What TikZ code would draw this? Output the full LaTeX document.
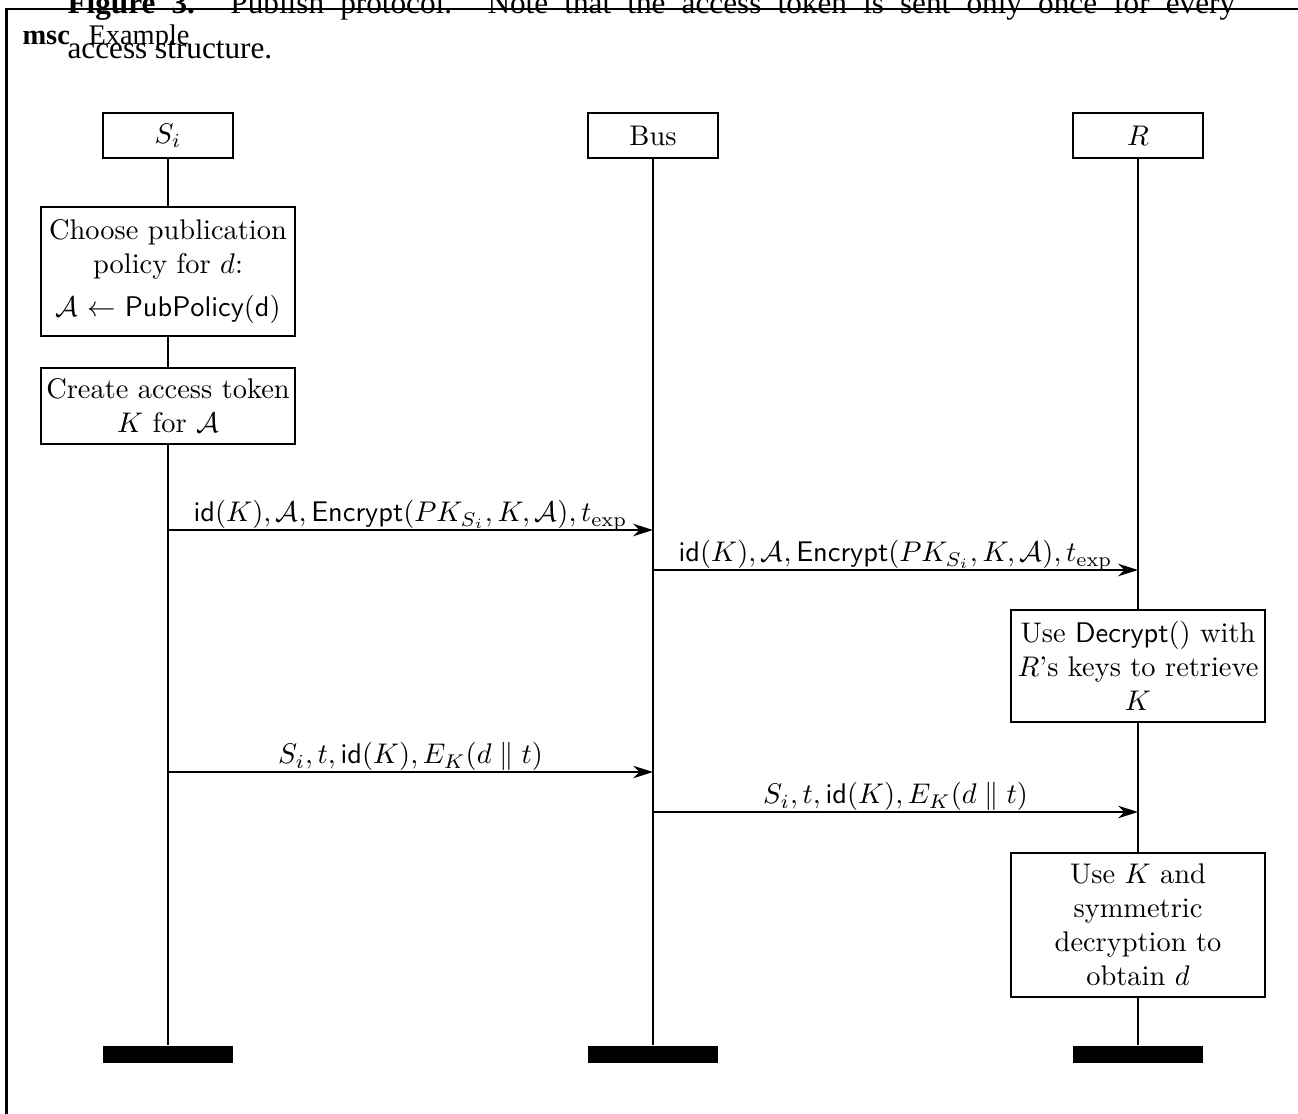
\documentclass[tikz,border=0pt]{standalone}
\usepackage{fontspec}
\newfontfamily\timesfont{Liberation Serif}
\usetikzlibrary{arrows.meta}
\tikzset{
  frameline/.style={line width=0.75pt},
  lifeline/.style={line width=0.7pt},
  headbox/.style={draw, line width=0.7pt, fill=white, minimum width=45.8pt, minimum height=15.8pt, inner sep=0pt},
  actbox/.style={draw, line width=0.7pt, fill=white, text width=86pt, align=center, inner sep=1.7pt},
  endbar/.style={fill=black, minimum width=45.8pt, minimum height=6pt, inner sep=0pt},
  msgarrow/.style={line width=0.7pt, -{Stealth[length=7pt,width=4.4pt,inset=2.2pt]}},
  msglabel/.style={anchor=base, inner sep=0pt, yshift=2.9pt},
  captext/.style={anchor=base west, inner sep=0pt, font=\timesfont\fontsize{11}{13}\selectfont},
  titletext/.style={anchor=base west, inner sep=0pt, font=\timesfont\fontsize{10}{12}\selectfont}
}
\begin{document}
\begin{tikzpicture}[x=0.012372cm, y=-0.012372cm]
\useasboundingbox (0,0) rectangle (1298,1113);
\clip (0,0) rectangle (1298,1113);
% frame
\draw[frameline] (1320,9) -- (6.5,9) -- (6.5,1140);
% title
\node[titletext] (msckw) at (22,44) {\textbf{msc}};
\node[titletext] (mscname) at (88,44) {Example};
% caption
\node[captext] (cap1) at (67,13) {\makebox[411.1pt][s]{\textbf{Figure 3.} Publish protocol. Note that the access token is sent only once for every}};
\node[captext] (cap2) at (67,58) {access structure.};
% instance heads
\node[headbox] (hS) at (168,135.5) {$S_i$};
\node[headbox] (hB) at (653,135.5) {Bus};
\node[headbox] (hR) at (1138,135.5) {$R$};
% end bars
\node[endbar] (eS) at (168,1054.5) {};
\node[endbar] (eB) at (653,1054.5) {};
\node[endbar] (eR) at (1138,1054.5) {};
% lifelines
\draw[lifeline] (hS.south) -- (eS.north);
\draw[lifeline] (hB.south) -- (eB.north);
\draw[lifeline] (hR.south) -- (eR.north);
% actions
\node[actbox, minimum height=45.4pt] (a1) at (168,271.5) {Choose publication\\ policy for $d$:\\[3pt] $\mathcal{A} \leftarrow \mathsf{PubPolicy}(\mathsf{d})$};
\node[actbox, minimum height=26.8pt] (a2) at (168,406) {Create access token\\ $K$ for $\mathcal{A}$};
\node[actbox, minimum height=39.4pt] (a3) at (1138,666) {Use $\mathsf{Decrypt}()$ with\\ $R$'s keys to retrieve\\ $K$};
\node[actbox, minimum height=50.7pt] (a4) at (1138,925) {Use $K$ and\\ symmetric\\ decryption to\\ obtain $d$};
% message points
\coordinate (m1s) at (168,530); \coordinate (m1e) at (653,530);
\coordinate (m2s) at (653,570); \coordinate (m2e) at (1138,570);
\coordinate (m3s) at (168,772); \coordinate (m3e) at (653,772);
\coordinate (m4s) at (653,812); \coordinate (m4e) at (1138,812);
% messages
\draw[msgarrow] (m1s) -- (m1e) node[msglabel, midway] (l1) {$\mathsf{id}(K), \mathcal{A}, \mathsf{Encrypt}(PK_{S_i}, K, \mathcal{A}), t_{\mathrm{exp}}$};
\draw[msgarrow] (m2s) -- (m2e) node[msglabel, midway] (l2) {$\mathsf{id}(K), \mathcal{A}, \mathsf{Encrypt}(PK_{S_i}, K, \mathcal{A}), t_{\mathrm{exp}}$};
\draw[msgarrow] (m3s) -- (m3e) node[msglabel, midway] (l3) {$S_i, t, \mathsf{id}(K), E_K(d \parallel t)$};
\draw[msgarrow] (m4s) -- (m4e) node[msglabel, midway] (l4) {$S_i, t, \mathsf{id}(K), E_K(d \parallel t)$};
\end{tikzpicture}
\end{document}
